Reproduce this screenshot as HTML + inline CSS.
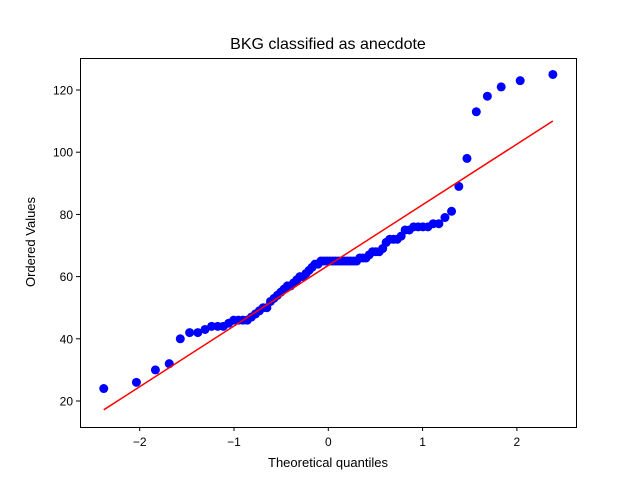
<!DOCTYPE html>
<html><head><meta charset="utf-8"><style>
body{margin:0;background:#fff}
text{font-family:"Liberation Sans","DejaVu Sans",sans-serif;fill:#000}
</style></head><body>
<svg id="chart" width="640" height="480" xmlns="http://www.w3.org/2000/svg">
<rect width="640" height="480" fill="#fff"/>
<text x="328" y="49" font-size="16" text-anchor="middle">BKG classified as anecdote</text>
<text x="328" y="467" font-size="13" text-anchor="middle">Theoretical quantiles</text>
<text transform="translate(35,242) rotate(-90)" font-size="13" text-anchor="middle">Ordered Values</text>
<g id="marks"></g>
<rect x="80.5" y="58.5" width="496" height="369" fill="none" stroke="#000" stroke-width="1"/>
</svg>
<script>
const values=[24,26,30,32,40,42,42,43,44,44,44,45,46,46,46,46,
47,48,49,50,50,52,53,54,55,56,57,57,58,59,60,60,61,62,63,64,64,65,65,65,
65,65,65,65,65,65,65,65,65,65,66,66,66,67,68,68,68,69,71,72,72,72,73,75,75,76,76,76,76,77,77,79,81,89,98,113,118,121,123,125];
const xTicks=[-2,-1,0,1,2];
const yTicks=[20,40,60,80,100,120];
const fitSlope=19.5, fitIntercept=63.6;
const NS="http://www.w3.org/2000/svg";
const xs=v=>328.3+v*94.3;
const ys=v=>401-(v-20)*3.11;
function ppf(p){ // Acklam approximation
 const a=[-39.69683028665376,220.9460984245205,-275.9285104469687,138.3577518672690,-30.66479806614716,2.506628277459239],
 b=[-54.47609879822406,161.5858368580409,-155.6989798598866,66.80131188771972,-13.28068155288572],
 c=[-0.007784894002430293,-0.3223964580411365,-2.400758277161838,-2.549732539343734,4.374664141464968,2.938163982698783],
 d=[0.007784695709041462,0.3224671290700398,2.445134137142996,3.754408661907416];
 let q,r;
 if(p<0.02425){q=Math.sqrt(-2*Math.log(p));return (((((c[0]*q+c[1])*q+c[2])*q+c[3])*q+c[4])*q+c[5])/((((d[0]*q+d[1])*q+d[2])*q+d[3])*q+1);}
 if(p>1-0.02425){q=Math.sqrt(-2*Math.log(1-p));return -(((((c[0]*q+c[1])*q+c[2])*q+c[3])*q+c[4])*q+c[5])/((((d[0]*q+d[1])*q+d[2])*q+d[3])*q+1);}
 q=p-0.5;r=q*q;return (((((a[0]*r+a[1])*r+a[2])*r+a[3])*r+a[4])*r+a[5])*q/(((((b[0]*r+b[1])*r+b[2])*r+b[3])*r+b[4])*r+1);
}
const n=values.length;
const quant=values.map((v,i)=>{let m;if(i===n-1)m=Math.pow(0.5,1/n);else if(i===0)m=1-Math.pow(0.5,1/n);else m=(i+1-0.3175)/(n+0.365);return ppf(m);});
const g=document.getElementById('marks');
function mk(t,attrs){const e=document.createElementNS(NS,t);for(const k in attrs)e.setAttribute(k,attrs[k]);g.appendChild(e);return e;}
xTicks.forEach(t=>{
 const l=mk('line',{x1:xs(t),x2:xs(t),y1:427,y2:431,stroke:'#000'});
 
 
 const tx=mk('text',{x:xs(t),y:446,'font-size':12,'text-anchor':'middle'});tx.textContent=(t<0?'\u2212'+(-t):t);
 
 
});
yTicks.forEach(t=>{
 const l=mk('line',{x1:76,x2:80,y1:ys(t),y2:ys(t),stroke:'#000'});
 
 
 const tx=mk('text',{x:73,y:ys(t)+4.5,'font-size':12,'text-anchor':'end'});tx.textContent=t;
 
 
});
values.forEach((v,i)=>{
 const c=mk('circle',{cx:xs(quant[i]),cy:ys(v),r:4.5,fill:'#0000ff'});
 
 
});
const x0=quant[0],x1=quant[n-1];
const fl=mk('line',{x1:xs(x0),y1:ys(fitIntercept+fitSlope*x0),x2:xs(x1),y2:ys(fitIntercept+fitSlope*x1),stroke:'#ff0000','stroke-width':1.5});


</script>
</body></html>
